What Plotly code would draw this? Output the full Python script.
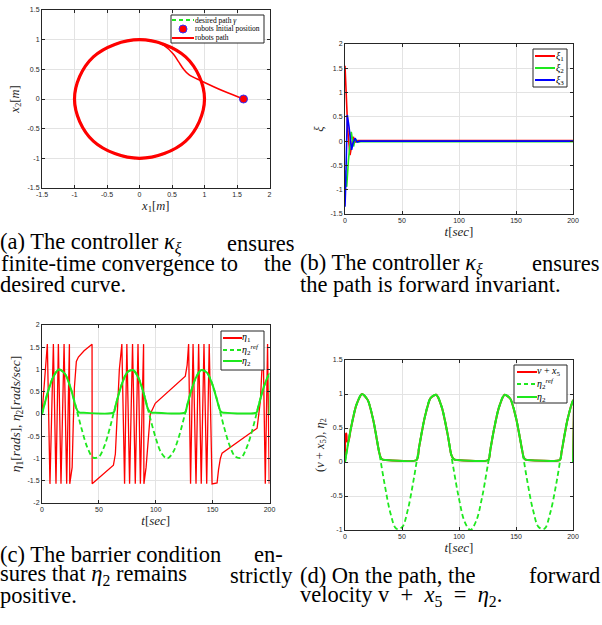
import plotly.graph_objects as go

W, H = 602, 625

# ---------------- (a) planar path data ----------------
circle_x = [0.0, -0.38, -0.71, -0.92, -1.0, -0.92, -0.71, -0.38, 0.0, 0.38, 0.71, 0.92, 1.0, 0.92, 0.71, 0.38, 0.0]
circle_y = [1.0, 0.92, 0.71, 0.38, 0.0, -0.38, -0.71, -0.92, -1.0, -0.92, -0.71, -0.38, 0.0, 0.38, 0.71, 0.92, 1.0]
approach_x = [1.6, 1.3, 0.96, 0.76, 0.68, 0.6, 0.52, 0.38, 0.2, 0.0]
approach_y = [0.0, 0.13, 0.3, 0.41, 0.5, 0.63, 0.76, 0.9, 0.98, 1.0]
init_x = [1.6]
init_y = [0.0]
a_xticks = [-1.5, -1, -0.5, 0, 0.5, 1, 1.5, 2]
a_xlabels = ["-1.5", "-1", "-0.5", "0", "0.5", "1", "1.5", "2"]
a_yticks = [-1.5, -1, -0.5, 0, 0.5, 1, 1.5]
a_ylabels = ["-1.5", "-1", "-0.5", "0", "0.5", "1", "1.5"]

# ---------------- (b) xi data ----------------
xi1_t = [0, 1.0, 2.5, 4.4, 6.0, 7.3, 9.0, 11.0, 15.0, 200]
xi1 = [1.55, 1.0, 0.2, -0.29, -0.05, 0.09, -0.02, 0.01, 0.01, 0.01]
xi2_t = [0, 1.5, 3.0, 5.5, 7.5, 9.0, 11.0, 14.0, 200]
xi2 = [-0.6, -0.94, -0.4, 0.19, -0.11, 0.05, -0.02, -0.01, -0.01]
xi3_t = [0, 0.5, 2.0, 3.5, 5.8, 7.0, 8.8, 10.5, 13.0, 200]
xi3 = [-1.35, -1.0, 0.54, 0.3, -0.18, -0.05, 0.06, -0.02, 0.0, 0.0]
b_yticks = [-1.5, -1, -0.5, 0, 0.5, 1, 1.5, 2]
b_ylabels = ["-1.5", "-1", "-0.5", "0", "0.5", "1", "1.5", "2"]

# ---------------- (c)/(d) eta data ----------------
t_ticks = [0, 50, 100, 150, 200]
t_labels = ["0", "50", "100", "150", "200"]

t_ref = [0, 5, 10, 15, 20, 25, 30, 35, 40, 45, 50, 55, 60, 65, 70, 75, 80, 85, 90, 95, 100,
         105, 110, 115, 120, 125, 130, 135, 140, 145, 150, 155, 160, 165, 170, 175, 180, 185, 190, 195, 200]
eta2_ref = [0, 0.48, 0.84, 1.0, 0.91, 0.6, 0.14, -0.35, -0.76, -0.98, -0.96, -0.71, -0.28, 0.22, 0.66,
            0.94, 0.99, 0.8, 0.41, -0.08, -0.54, -0.88, -1.0, -0.87, -0.54, -0.07, 0.42, 0.8, 0.99, 0.93,
            0.65, 0.21, -0.29, -0.71, -0.96, -0.98, -0.75, -0.35, 0.15, 0.61, 0.91]

t_eta2 = [0, 5, 10, 15, 20, 25, 30, 31.5, 33, 35, 62.8, 65, 70, 75, 80, 85, 90, 93, 94.5, 96, 98,
          125.7, 127.5, 130, 135, 140, 145, 150, 155, 156.7, 158.3, 160, 188.5, 190, 195, 200, 200]
eta2 = [0, 0.48, 0.84, 1.0, 0.91, 0.6, 0.14, 0.06, 0.035, 0.03, 0.03, 0.22, 0.66, 0.94, 0.99, 0.8, 0.41,
        0.12, 0.06, 0.035, 0.03, 0.03, 0.18, 0.42, 0.8, 0.99, 0.93, 0.65, 0.21, 0.07, 0.035, 0.03,
        0.03, 0.15, 0.61, 0.91, 0]

t_eta1 = [0, 4.7, 7.0, 10.0, 12.3, 14.4, 16.7, 19.4, 21.7, 24.1, 24.4, 26.5, 27.5, 28.5, 30.2, 32.0, 37.0,
          44.0, 44.1, 62.8, 64.5, 66.2, 68.0, 70.2, 72.6, 74.6, 77.0, 79.6, 82.0, 84.4, 86.5, 89.3,
          89.6, 91.5, 93.5, 95.2, 99.6, 126.0, 127.6, 128.9, 130.6, 132.8, 135.4, 137.7, 140.0, 142.4,
          144.8, 147.0, 149.5, 153.9, 155.2, 156.8, 158.3, 189.1, 192.0, 194.4, 196.3, 198.3, 199.8]
eta1 = [0, 1.57, -1.57, 1.57, -1.57, 1.57, -1.57, 1.57, -1.57, 1.57, -1.57, -1.2, -0.2, 0.6, 1.18, 1.28, 1.42,
        1.57, -1.57, -1.15, -0.9, -0.1, 1.0, 1.57, -1.57, 1.57, -1.57, 1.57, -1.57, 1.57, -1.57, 1.57,
        -1.57, -1.2, -0.5, 0.0, 0.24, 0.85, 1.1, 1.57, -1.57, 1.57, -1.57, 1.57, -1.57, 1.57,
        -1.57, 1.57, -1.57, -1.55, -1.25, -1.0, -0.88, -0.32, 0.3, 1.57, -1.57, 1.57, -1.57]
c_yticks = [-2, -1.5, -1, -0.5, 0, 0.5, 1, 1.5, 2]
c_ylabels = ["-2", "-1.5", "-1", "-0.5", "0", "0.5", "1", "1.5", "2"]

# (d) forward velocity: initial transient, then it coincides with eta2
vx5_start_t = [0, 0.5, 1.2, 1.8, 3.0]
vx5_start = [0.1, 0.4, 0.42, 0.3, 0.3]
d_yticks = [-1, -0.5, 0, 0.5, 1, 1.5]
d_ylabels = ["-1", "-0.5", "0", "0.5", "1", "1.5"]

RED, GREEN, BLUE = "#ff0000", "#1ee81e", "#0000ff"
AX = "#262626"
SERIF = "Liberation Serif"
SANS = "Liberation Sans"

# plot areas in pixels (left, right, top, bottom)
P = {
    "a": (42, 269.5, 10, 188),
    "b": (345, 573, 44, 214),
    "c": (42, 269.5, 325, 503),
    "d": (345, 573, 360, 530),
}

fig = go.Figure()

# (a)
fig.add_trace(go.Scatter(x=circle_x, y=circle_y, mode="lines", line=dict(color=GREEN, width=2, dash="5px,3px", shape="spline"),
                         xaxis="x", yaxis="y", name="desired path γ", showlegend=False))
fig.add_trace(go.Scatter(x=approach_x, y=approach_y, mode="lines", line=dict(color=RED, width=1.5, shape="spline"),
                         xaxis="x", yaxis="y", name="robots path", showlegend=False))
fig.add_trace(go.Scatter(x=circle_x, y=circle_y, mode="lines", line=dict(color=RED, width=3.2, shape="spline"),
                         xaxis="x", yaxis="y", name="robots path", showlegend=False))
fig.add_trace(go.Scatter(x=init_x, y=init_y, mode="markers",
                         marker=dict(color=RED, size=8, line=dict(color="#3030ff", width=1)),
                         xaxis="x", yaxis="y", name="robots Initial position", showlegend=False))
# (b)
for tt, vv, col, nm in [(xi1_t, xi1, RED, "ξ1"), (xi2_t, xi2, GREEN, "ξ2"), (xi3_t, xi3, BLUE, "ξ3")]:
    fig.add_trace(go.Scatter(x=tt, y=vv, mode="lines", line=dict(color=col, width=1.6),
                             xaxis="x2", yaxis="y2", name=nm, showlegend=False))
# (c)
fig.add_trace(go.Scatter(x=t_eta1, y=eta1, mode="lines", line=dict(color=RED, width=1.3),
                         xaxis="x3", yaxis="y3", name="η1", showlegend=False))
fig.add_trace(go.Scatter(x=t_ref, y=eta2_ref, mode="lines", line=dict(color=GREEN, width=1.8, dash="5px,3px", shape="spline"),
                         xaxis="x3", yaxis="y3", name="η2 ref", showlegend=False))
fig.add_trace(go.Scatter(x=t_eta2, y=eta2, mode="lines", line=dict(color=GREEN, width=2, shape="spline", smoothing=0.6),
                         xaxis="x3", yaxis="y3", name="η2", showlegend=False))
# (d)
vx5_t = vx5_start_t + t_eta2[1:]
vx5 = vx5_start + eta2[1:]
fig.add_trace(go.Scatter(x=vx5_t, y=vx5, mode="lines", line=dict(color=RED, width=2, shape="spline", smoothing=0.6),
                         xaxis="x4", yaxis="y4", name="v + x5", showlegend=False))
fig.add_trace(go.Scatter(x=t_ref, y=eta2_ref, mode="lines", line=dict(color=GREEN, width=1.8, dash="5px,3px", shape="spline"),
                         xaxis="x4", yaxis="y4", name="η2 ref", showlegend=False))
fig.add_trace(go.Scatter(x=t_eta2, y=eta2, mode="lines", line=dict(color=GREEN, width=2, shape="spline", smoothing=0.6),
                         xaxis="x4", yaxis="y4", name="η2", showlegend=False))


def axis(dom, rng, tv, tt, title, anchor, standoff, tsize=12.5):
    return dict(domain=dom, range=rng, tickvals=tv, ticktext=tt, anchor=anchor,
                showline=True, mirror="allticks", linecolor=AX, linewidth=1,
                ticks="inside", ticklen=3, tickcolor=AX, tickwidth=1,
                showgrid=True, gridcolor="#e3e3e3", gridwidth=1, zeroline=False,
                tickfont=dict(family=SANS, size=7, color=AX),
                title=dict(text=title, font=dict(family=SERIF, size=tsize, color=AX), standoff=standoff),
                automargin=False, fixedrange=True)


def xdom(k):
    l, r, t, b = P[k]
    return [l / W, r / W]


def ydom(k):
    l, r, t, b = P[k]
    return [1 - b / H, 1 - t / H]


T_SEC = "<i>t</i>[<i>sec</i>]"
fig.update_layout(
    width=W, height=H, margin=dict(l=0, r=0, t=0, b=0),
    template="none", paper_bgcolor="white", plot_bgcolor="white", showlegend=False,
    xaxis=axis(xdom("a"), [-1.5, 2], a_xticks, a_xlabels, "<i>x</i><sub>1</sub>[<i>m</i>]", "y", 3),
    yaxis=axis(ydom("a"), [-1.5, 1.5], a_yticks, a_ylabels, "<i>x</i><sub>2</sub>[<i>m</i>]", "x", 5),
    xaxis2=axis(xdom("b"), [0, 200], t_ticks, t_labels, T_SEC, "y2", 3, 13),
    yaxis2=axis(ydom("b"), [-1.5, 2], b_yticks, b_ylabels, "<i>ξ</i>", "x2", 4),
    xaxis3=axis(xdom("c"), [0, 200], t_ticks, t_labels, T_SEC, "y3", 3, 13),
    yaxis3=axis(ydom("c"), [-2, 2], c_yticks, c_ylabels,
                "<i>η</i><sub>1</sub>[<i>rads</i>], <i>η</i><sub>2</sub>[<i>rads/sec</i>]", "x3", 3, 13.5),
    xaxis4=axis(xdom("d"), [0, 200], t_ticks, t_labels, T_SEC, "y4", 3, 13),
    yaxis4=axis(ydom("d"), [-1, 1.5], d_yticks, d_ylabels,
                "(<i>v</i> + <i>x</i><sub>5</sub>), <i>η</i><sub>2</sub>", "x4", 3),
)

shapes = []
annots = []


def px(x):
    return x / W


def py(y):
    return 1 - y / H


def legend(box, entries, fsize):
    x0, y0, x1, y1 = box
    shapes.append(dict(type="rect", xref="paper", yref="paper", x0=px(x0), x1=px(x1), y0=py(y1), y1=py(y0),
                       fillcolor="white", line=dict(color=AX, width=1), layer="above"))
    for e in entries:
        yc, sx0, sx1, tx, kind, col, dash, text = e
        if kind == "line":
            shapes.append(dict(type="line", xref="paper", yref="paper", x0=px(sx0), x1=px(sx1), y0=py(yc), y1=py(yc),
                               line=dict(color=col, width=2, dash=dash), layer="above"))
        else:
            cx = (sx0 + sx1) / 2
            shapes.append(dict(type="circle", xref="paper", yref="paper", x0=px(cx - 4), x1=px(cx + 4),
                               y0=py(yc + 4), y1=py(yc - 4), fillcolor=RED, line=dict(color="#3030ff", width=1),
                               layer="above"))
        annots.append(dict(xref="paper", yref="paper", x=px(tx), y=py(yc), xanchor="left", yanchor="middle",
                           text=text, showarrow=False, borderpad=0, borderwidth=0,
                           font=dict(family=SERIF, size=fsize, color="#000000")))


legend((171, 15, 264, 43), [
    (20, 172, 194, 195, "line", GREEN, "4px,3px", "desired path <i>γ</i>"),
    (29, 172, 194, 195, "marker", RED, None, "robots Initial position"),
    (38, 172, 194, 195, "line", RED, "solid", "robots path"),
], 7.5)
legend((533, 49, 567, 87), [
    (56, 535, 555, 556, "line", RED, "solid", "<i>ξ</i><sub>1</sub>"),
    (68, 535, 555, 556, "line", GREEN, "solid", "<i>ξ</i><sub>2</sub>"),
    (80, 535, 555, 556, "line", BLUE, "solid", "<i>ξ</i><sub>3</sub>"),
], 10)
legend((221, 331, 264, 370), [
    (338, 223, 242, 242, "line", RED, "solid", "<i>η</i><sub>1</sub>"),
    (350, 223, 242, 242, "line", GREEN, "4px,3px", "<i>η</i><sub>2</sub><sup><i>ref</i></sup>"),
    (361, 223, 242, 242, "line", GREEN, "solid", "<i>η</i><sub>2</sub>"),
], 10)
legend((514, 365, 567, 403), [
    (372, 517, 537, 537, "line", RED, "solid", "<i>v</i> + <i>x</i><sub>5</sub>"),
    (384, 517, 537, 537, "line", GREEN, "4px,3px", "<i>η</i><sub>2</sub><sup><i>ref</i></sup>"),
    (397, 517, 537, 537, "line", GREEN, "solid", "<i>η</i><sub>2</sub>"),
], 10)

# captions
KX = "<i>κ</i><sub><i>ξ</i></sub>"
E2 = "<i>η</i><sub>2</sub>"
EN = "\u2002"
caption_parts = [
    (0, 243, "left", "(a) The controller " + KX),
    (294, 243, "right", "ensures"),
    (1, 263.5, "left", "finite-time convergence to"),
    (292, 263.5, "right", "the"),
    (0, 284, "left", "desired curve."),
    (300, 263.5, "left", "(b) The controller " + KX),
    (599, 263.5, "right", "ensures"),
    (300, 284, "left", "the path is forward invariant."),
    (0, 554, "left", "(c) The barrier condition"),
    (283, 554, "right", "en-"),
    (0, 575, "left", "sures that " + E2 + " remains"),
    (293, 575, "right", "strictly"),
    (0, 595.5, "left", "positive."),
    (300, 575, "left", "(d) On the path, the"),
    (600, 575, "right", "forward"),
    (300, 595.5, "left", "velocity v" + EN + "+" + EN + "<i>x</i><sub>5</sub>" + EN + "=" + EN + E2 + "."),
]
for x, y, anc, txt in caption_parts:
    annots.append(dict(xref="paper", yref="paper", x=px(x), y=py(y), xanchor=anc, yanchor="middle",
                       text=txt, showarrow=False, borderpad=0, borderwidth=0,
                       font=dict(family=SERIF, size=22.5, color="#000000")))

fig.update_layout(shapes=shapes, annotations=annots)
fig.write_html("out.html", config={"displayModeBar": False},
               post_script="document.body.style.margin='0px';document.body.style.overflow='hidden';")
